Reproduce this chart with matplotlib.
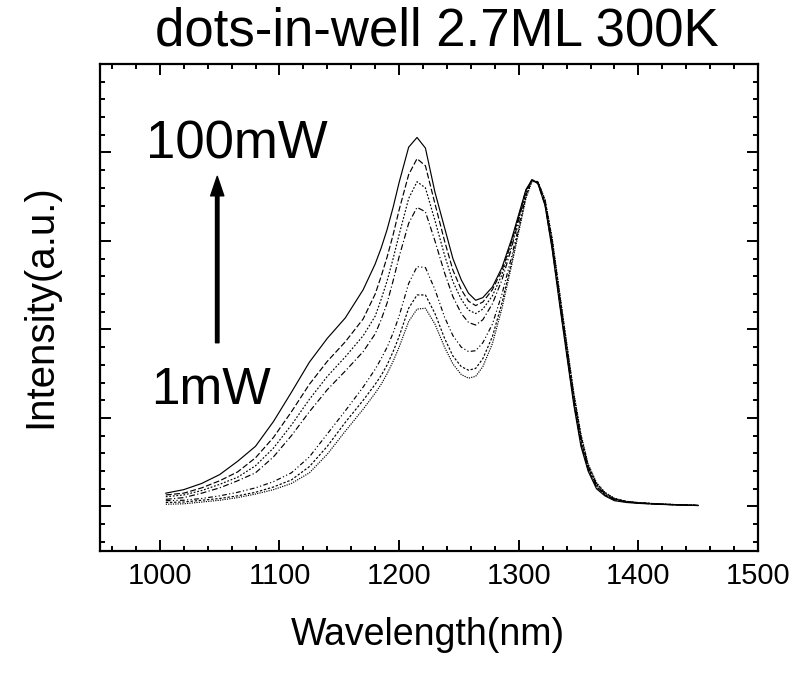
import matplotlib
matplotlib.use("Agg")
import matplotlib.pyplot as plt
from matplotlib.ticker import MultipleLocator, NullFormatter

plt.rcParams['font.family'] = ['Liberation Sans', 'DejaVu Sans']

# wavelength grid (nm)
wavelength = [1005, 1020, 1035, 1050, 1065, 1080, 1095, 1110, 1125, 1140, 1155, 1170,
              1180, 1185, 1190, 1195, 1200, 1208, 1215, 1222, 1230, 1238, 1245, 1252,
              1258, 1264, 1270, 1278, 1286, 1294, 1300, 1306, 1311, 1316, 1322, 1328,
              1334, 1340, 1346, 1352, 1358, 1365, 1372, 1380, 1390, 1400, 1415, 1430,
              1450]

# PL intensity (a.u.), from 100mW down to 1mW
p100 = [0.15, 0.19, 0.26, 0.36, 0.51, 0.68, 0.96, 1.29, 1.63, 1.90, 2.13, 2.45,
        2.74, 2.92, 3.13, 3.38, 3.66, 4.06, 4.17, 4.05, 3.55, 3.15, 2.80, 2.56,
        2.41, 2.33, 2.36, 2.48, 2.70, 3.02, 3.30, 3.58, 3.69, 3.65, 3.40, 2.90,
        2.30, 1.72, 1.15, 0.68, 0.40, 0.20, 0.12, 0.065, 0.045, 0.035, 0.025, 0.018,
        0.010]
p50 = [0.13, 0.15, 0.21, 0.29, 0.39, 0.55, 0.78, 1.07, 1.38, 1.64, 1.86, 2.12,
       2.40, 2.60, 2.82, 3.07, 3.35, 3.75, 3.93, 3.85, 3.42, 3.00, 2.67, 2.45,
       2.32, 2.27, 2.31, 2.45, 2.67, 2.99, 3.28, 3.57, 3.69, 3.65, 3.41, 2.92,
       2.33, 1.75, 1.18, 0.71, 0.42, 0.22, 0.13, 0.075, 0.050, 0.038, 0.027, 0.019,
       0.011]
p30 = [0.11, 0.13, 0.18, 0.25, 0.33, 0.46, 0.66, 0.92, 1.21, 1.47, 1.69, 1.93,
       2.15, 2.34, 2.55, 2.80, 3.07, 3.48, 3.67, 3.60, 3.23, 2.84, 2.54, 2.34,
       2.22, 2.18, 2.23, 2.38, 2.62, 2.96, 3.26, 3.56, 3.69, 3.66, 3.42, 2.94,
       2.35, 1.77, 1.20, 0.73, 0.43, 0.23, 0.13, 0.078, 0.052, 0.040, 0.028, 0.020,
       0.012]
p20 = [0.08, 0.10, 0.15, 0.21, 0.29, 0.38, 0.56, 0.80, 1.07, 1.32, 1.53, 1.75,
       1.95, 2.11, 2.30, 2.55, 2.82, 3.20, 3.38, 3.33, 3.00, 2.64, 2.37, 2.18,
       2.08, 2.05, 2.11, 2.29, 2.56, 2.92, 3.24, 3.55, 3.69, 3.66, 3.43, 2.96,
       2.37, 1.79, 1.22, 0.75, 0.44, 0.24, 0.14, 0.080, 0.053, 0.040, 0.028, 0.020,
       0.012]
p10 = [0.065, 0.07, 0.09, 0.12, 0.16, 0.21, 0.28, 0.38, 0.56, 0.82, 1.08, 1.35,
       1.55, 1.67, 1.80, 1.96, 2.15, 2.52, 2.71, 2.70, 2.45, 2.14, 1.93, 1.80,
       1.75, 1.76, 1.85, 2.06, 2.40, 2.82, 3.17, 3.52, 3.69, 3.67, 3.45, 2.99,
       2.40, 1.82, 1.25, 0.78, 0.46, 0.25, 0.15, 0.085, 0.055, 0.042, 0.030, 0.021,
       0.012]
p5 = [0.045, 0.05, 0.07, 0.09, 0.12, 0.16, 0.22, 0.30, 0.45, 0.68, 0.95, 1.20,
      1.38, 1.48, 1.60, 1.75, 1.92, 2.24, 2.39, 2.39, 2.18, 1.90, 1.70, 1.58,
      1.54, 1.56, 1.67, 1.92, 2.30, 2.76, 3.13, 3.50, 3.68, 3.67, 3.46, 3.01,
      2.42, 1.84, 1.27, 0.80, 0.47, 0.26, 0.155, 0.090, 0.057, 0.043, 0.030, 0.021,
      0.012]
p1 = [0.025, 0.03, 0.05, 0.07, 0.10, 0.14, 0.19, 0.26, 0.38, 0.59, 0.85, 1.10,
      1.28, 1.38, 1.50, 1.64, 1.80, 2.09, 2.23, 2.24, 2.06, 1.80, 1.61, 1.49,
      1.45, 1.47, 1.58, 1.84, 2.24, 2.72, 3.10, 3.48, 3.67, 3.67, 3.47, 3.03,
      2.44, 1.86, 1.29, 0.82, 0.48, 0.27, 0.16, 0.092, 0.058, 0.044, 0.031, 0.022,
      0.013]

series = [p100, p50, p30, p20, p10, p5, p1]
styles = ['-', (0, (5, 2)), (0, (1.5, 1.5)), (0, (5, 2, 1, 2)),
          (0, (4, 2, 1, 2, 1, 2)), (0, (2, 1.5)), (0, (1, 1))]

fig = plt.figure(figsize=(7.98, 6.75), dpi=100)
ax = fig.add_axes([100 / 798, 1 - 550.7 / 675, 658 / 798, 486.7 / 675])

for y, ls in zip(series, styles):
    ax.plot(wavelength, y, color='black', lw=0.85, linestyle=ls)

ax.set_xlim(950, 1500)
ax.set_ylim(-0.5, 5.0)
ax.xaxis.set_major_locator(MultipleLocator(100))
ax.xaxis.set_minor_locator(MultipleLocator(20))
ax.yaxis.set_major_locator(MultipleLocator(1))
ax.yaxis.set_minor_locator(MultipleLocator(0.2))
ax.yaxis.set_major_formatter(NullFormatter())
ax.tick_params(which='both', direction='in', top=True, right=True, width=1.4)
ax.tick_params(which='major', length=8, labelsize=21, pad=8)
ax.tick_params(which='minor', length=3.6)
for s in ax.spines.values():
    s.set_linewidth(1.6)

ax.annotate('', xy=(1048, 3.73), xytext=(1048, 1.85),
            arrowprops=dict(facecolor='black', edgecolor='black', width=2.5,
                            headwidth=9.5, headlength=14, shrink=0))
ax.text(1064, 3.93, '100mW', fontsize=38, ha='center', va='baseline')
ax.text(1043, 1.16, '1mW', fontsize=37, ha='center', va='baseline')

fig.text(437 / 798, 1 - 32 / 675, 'dots-in-well 2.7ML 300K', fontsize=38,
         ha='center', va='center')
fig.text(428 / 798, 1 - 635 / 675, 'Wavelength(nm)', fontsize=27,
         ha='center', va='center')
fig.text(40 / 798, 1 - 306 / 675, 'Intensity(a.u.)', fontsize=29,
         rotation=90, ha='center', va='center')

fig.savefig('out.png', dpi=100)
